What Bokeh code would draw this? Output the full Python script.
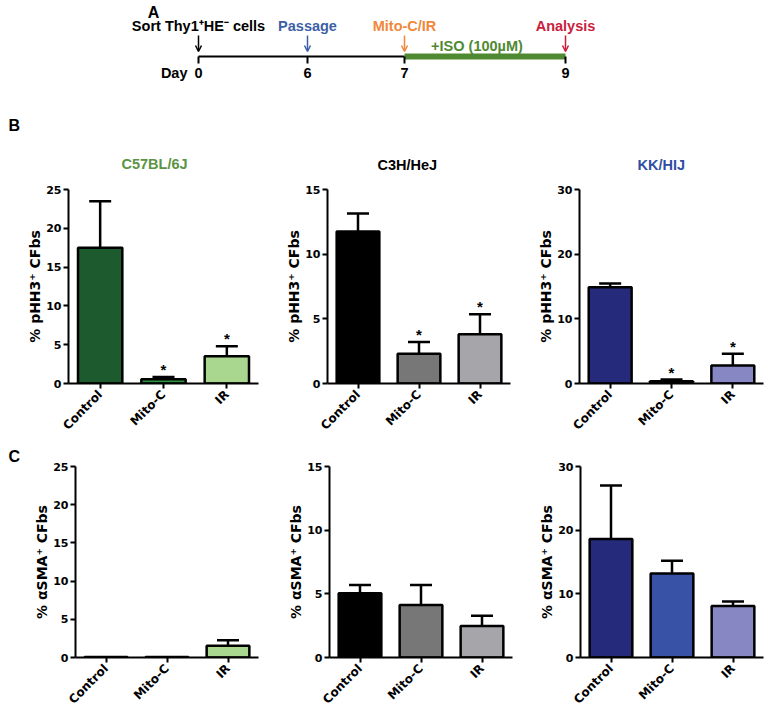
import math
from bokeh.plotting import figure
from bokeh.layouts import column, row
from bokeh.models import (ColumnDataSource, FactorRange, Range1d, FixedTicker,
                          Whisker, TeeHead, Arrow, OpenHead, Title)
from bokeh.core.properties import value
from bokeh.embed import file_html
from bokeh.resources import INLINE

# ---------------- data ----------------
conditions = ["Control", "Mito-C", "IR"]
strains = ["C57BL/6J", "C3H/HeJ", "KK/HIJ"]

timeline_days = [0, 6, 7, 9]
timeline_events = ["Sort Thy1\u207aHE\u207b cells", "Passage", "Mito-C/IR", "Analysis"]
treatment_label = "+ISO (100\u00b5M)"
treatment_days = [7, 9]

pHH3_c57_mean = [17.5, 0.55, 3.5]
pHH3_c57_sem = [6.0, 0.3, 1.3]
pHH3_c3h_mean = [11.75, 2.3, 3.8]
pHH3_c3h_sem = [1.4, 0.9, 1.55]
pHH3_kk_mean = [14.9, 0.35, 2.8]
pHH3_kk_sem = [0.55, 0.25, 1.8]
pHH3_sig = ["", "*", "*"]

sma_c57_mean = [0.05, 0.05, 1.55]
sma_c57_sem = [0.0, 0.0, 0.7]
sma_c3h_mean = [5.05, 4.13, 2.48]
sma_c3h_sem = [0.65, 1.57, 0.8]
sma_kk_mean = [18.6, 13.2, 8.1]
sma_kk_sem = [8.4, 2.0, 0.7]
sma_sig = ["", "", ""]

ticks_c57 = [0, 5, 10, 15, 20, 25]
ticks_c3h = [0, 5, 10, 15]
ticks_kk = [0, 10, 20, 30]

ylabel_pHH3 = "% pHH3\u207a CFbs"
ylabel_sma = "% \u03b1SMA\u207a CFbs"

# ---------------- styles ----------------
colors_c57 = ["#1d5a2d", "#2e9440", "#a9d790"]
colors_c3h = ["#000000", "#777777", "#a6a6aa"]
colors_kk = ["#262a7b", "#3853a6", "#8788c3"]
title_colors = ["#5b9444", "#000000", "#2f4ea3"]
event_colors = ["#000000", "#3c5fa6", "#f0883a", "#c8203c"]
iso_color = "#4f8a33"

TICK_FONT = "DejaVu Sans"
TEXT_FONT = "Liberation Sans"

# schematic (not to scale) positions of the timeline days, canvas pixels
day_x = [198, 307, 404, 565]
line_y = 56


def timeline_figure():
    W, H = 771, 135
    p = figure(width=W, height=H, x_range=Range1d(0, W), y_range=Range1d(H, 0),
               x_axis_type=None, y_axis_type=None, toolbar_location=None,
               output_backend="svg", min_border=0)
    p.outline_line_color = None
    i7 = timeline_days.index(treatment_days[0])
    i9 = timeline_days.index(treatment_days[1])
    p.segment(x0=[day_x[0]], y0=[line_y], x1=[day_x[i7]], y1=[line_y],
              line_color="black", line_width=2)
    p.segment(x0=[day_x[i7]], y0=[line_y], x1=[day_x[i9]], y1=[line_y],
              line_color=iso_color, line_width=6)
    p.segment(x0=day_x, y0=[line_y] * len(day_x), x1=day_x, y1=[line_y + 7] * len(day_x),
              line_color="black", line_width=2)
    p.text(x=day_x, y=[line_y + 16] * len(day_x), text=[str(d) for d in timeline_days],
           text_font=value(TEXT_FONT), text_font_style="bold", text_font_size="14.5px",
           text_align="center", text_baseline="middle", text_color="black")
    p.text(x=[day_x[0] - 11], y=[line_y + 16], text=["Day"],
           text_font=value(TEXT_FONT), text_font_style="bold", text_font_size="14.5px",
           text_align="right", text_baseline="middle", text_color="black")
    p.text(x=day_x, y=[25.5] * len(day_x), text=timeline_events,
           text_font=value(TEXT_FONT), text_font_style="bold", text_font_size="14.5px",
           text_align="center", text_baseline="middle", text_color=event_colors)
    for xx, c in zip(day_x, event_colors):
        p.add_layout(Arrow(x_start=xx, y_start=35, x_end=xx, y_end=51,
                           line_color=c, line_width=1.5,
                           end=OpenHead(size=6, line_color=c, line_width=1.5)))
    p.text(x=[(day_x[i7] + day_x[i9]) / 2 - 8], y=[45], text=[treatment_label],
           text_font=value(TEXT_FONT), text_font_style="bold", text_font_size="14.5px",
           text_align="center", text_baseline="middle", text_color=iso_color)
    p.text(x=[153], y=[12], text=["A"], text_font=value(TEXT_FONT), text_font_style="bold",
           text_font_size="16px", text_align="center", text_baseline="middle")
    p.text(x=[8], y=[125], text=["B"], text_font=value(TEXT_FONT), text_font_style="bold",
           text_font_size="16px", text_align="left", text_baseline="middle")
    return p


def bar_chart(mean, sem, sig, ticks, ylabel, colors, width, height, bl, br, bt, bb,
              title=None, title_color="black", title_offset=0, title_size="14.5px",
              title_standoff=33):
    p = figure(width=width, height=height,
               x_range=FactorRange(factors=conditions, range_padding=0.0),
               y_range=Range1d(0, ticks[-1]),
               toolbar_location=None, output_backend="svg")
    p.min_border_left = bl
    p.min_border_right = br
    p.min_border_top = bt
    p.min_border_bottom = bb
    p.outline_line_color = None
    p.xgrid.visible = False
    p.ygrid.visible = False

    upper = [m + s for m, s in zip(mean, sem)]
    src = ColumnDataSource(dict(cond=conditions, mean=mean, upper=upper, color=colors))
    p.vbar(x="cond", top="mean", bottom=0, width=0.7, source=src,
           fill_color="color", line_color="black", line_width=2.5)

    wsrc = ColumnDataSource(dict(
        cond=[c for c, s in zip(conditions, sem) if s > 0],
        mean=[m for m, s in zip(mean, sem) if s > 0],
        upper=[u for u, s in zip(upper, sem) if s > 0]))
    p.add_layout(Whisker(source=wsrc, base="cond", lower="mean", upper="upper",
                         dimension="height", line_color="black", line_width=2.5,
                         lower_head=None,
                         upper_head=TeeHead(size=22, line_color="black", line_width=2.5)))

    ssrc = ColumnDataSource(dict(
        cond=[c for c, s in zip(conditions, sig) if s],
        y=[u for u, s in zip(upper, sig) if s],
        text=[s for s in sig if s]))
    p.text(x="cond", y="y", text="text", source=ssrc, text_font=value(TEXT_FONT),
           text_font_style="bold", text_font_size="15px", text_align="center",
           text_baseline="bottom", y_offset=1, text_color="black")

    for ax in (p.xaxis[0], p.yaxis[0]):
        ax.axis_line_width = 2
        ax.axis_line_color = "black"
        ax.major_tick_line_width = 2
        ax.major_tick_line_color = "black"
        ax.major_tick_out = 5
        ax.major_tick_in = 0
        ax.minor_tick_line_color = None
        ax.major_label_text_font = TICK_FONT
        ax.major_label_text_font_style = "bold"
        ax.major_label_text_color = "black"
    p.xaxis.major_label_text_font_size = "12px"
    p.yaxis.major_label_text_font_size = "11px"
    p.xaxis.major_label_orientation = math.pi / 4
    p.xaxis.major_label_standoff = 4
    p.yaxis.ticker = FixedTicker(ticks=ticks)
    p.yaxis.major_label_standoff = 2
    p.yaxis.axis_label = ylabel
    p.yaxis.axis_label_text_font = TICK_FONT
    p.yaxis.axis_label_text_font_style = "bold"
    p.yaxis.axis_label_text_font_size = "14px"
    p.yaxis.axis_label_text_color = "black"
    p.yaxis.axis_label_standoff = 0

    if title:
        p.title = Title(text=title, align="left", offset=title_offset,
                        standoff=title_standoff, text_color=title_color,
                        text_font=TEXT_FONT, text_font_style="bold",
                        text_font_size=title_size)
    return p


tl = timeline_figure()

H1, H2 = 305, 274
b1 = bar_chart(pHH3_c57_mean, pHH3_c57_sem, pHH3_sig, ticks_c57, ylabel_pHH3, colors_c57,
               267, H1, 68, 9, 54, 57, title=strains[0], title_color=title_colors[0],
               title_offset=53, title_standoff=35)
b2 = bar_chart(pHH3_c3h_mean, pHH3_c3h_sem, pHH3_sig, ticks_c3h, ylabel_pHH3, colors_c3h,
               252, H1, 60, 9, 54, 57, title=strains[1], title_color=title_colors[1],
               title_offset=50)
b3 = bar_chart(pHH3_kk_mean, pHH3_kk_sem, pHH3_sig, ticks_kk, ylabel_pHH3, colors_kk,
               252, H1, 60, 8, 54, 57, title=strains[2], title_color=title_colors[2],
               title_offset=58)

c1 = bar_chart(sma_c57_mean, sma_c57_sem, sma_sig, ticks_c57, ylabel_sma, colors_c57,
               267, H2, 75, 9, 26, 55, title="C", title_offset=-67, title_size="16px",
               title_standoff=3)
c2 = bar_chart(sma_c3h_mean, sma_c3h_sem, sma_sig, ticks_c3h, ylabel_sma, colors_c3h,
               252, H2, 62, 7, 26, 55)
c3 = bar_chart(sma_kk_mean, sma_kk_sem, sma_sig, ticks_kk, ylabel_sma, colors_kk,
               252, H2, 61, 8, 26, 55)

layout = column(tl, row(b1, b2, b3), row(c1, c2, c3))

with open("out.html", "w") as f:
    f.write(file_html(layout, INLINE))
